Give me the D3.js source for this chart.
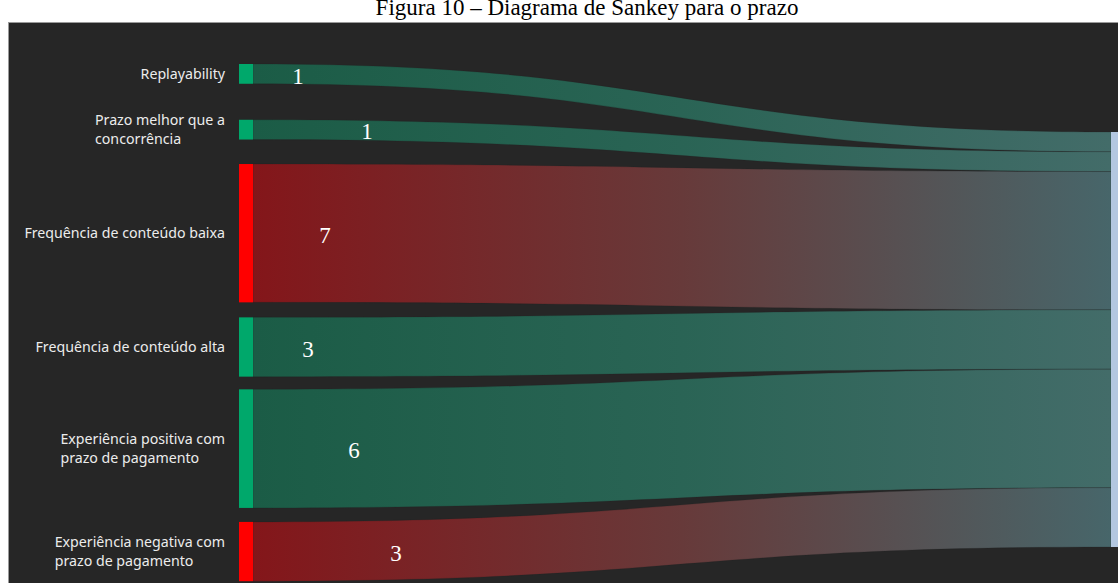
<!DOCTYPE html>
<html>
<head>
<meta charset="utf-8">
<script src="https://cdn.jsdelivr.net/npm/d3@7"></script>
<style>
  html, body { margin: 0; padding: 0; background: #ffffff; }
  svg { display: block; }
</style>
</head>
<body>
<svg id="chart" width="1118" height="583"></svg>
<script>
// ---------------- DATA ----------------
const sources = [
  "Replayability",
  "Prazo melhor que a concorrência",
  "Frequência de conteúdo baixa",
  "Frequência de conteúdo alta",
  "Experiência positiva com prazo de pagamento",
  "Experiência negativa com prazo de pagamento"
];
const sourceLines = [
  ["Replayability"],
  ["Prazo melhor que a", "concorrência"],
  ["Frequência de conteúdo baixa"],
  ["Frequência de conteúdo alta"],
  ["Experiência positiva com", "prazo de pagamento"],
  ["Experiência negativa com", "prazo de pagamento"]
];
const values = [1, 1, 7, 3, 6, 3];
const sentiment = ["pos", "pos", "neg", "pos", "pos", "neg"];
const target = "Prazo";
const titleText = "Figura 10 – Diagrama de Sankey para o prazo";

// ---------------- LAYOUT / STYLE ----------------
const W = 1118, H = 583;
const panel = { x: 8.5, y: 22.5 };
const nodeW = 14;
const leftX = 239;
const rightX = 1111;
const leftTop = 64;
const rightTop = 132;
const gaps = [0, 36, 24.5, 15, 12.7, 14];        // vertical gaps before each left node
const valueLabelOffset = [45, 114, 72, 55, 101, 143]; // x offset of value label from node edge
const labelRight = 225;

const colors = {
  pos: "#00a86b",
  neg: "#ff0000",
  target: "#b3c7e0",
  bg: "#262626",
  linkStart: { pos: "#1b5c46", neg: "#84161a" },
  linkMid: { pos: "#2a6455", neg: "#673a3a" },
  linkEnd: { pos: "#436c69", neg: "#47666a" }
};

const total = d3.sum(values);
const y = d3.scaleLinear().domain([0, total]).range([0, 415]);

const svg = d3.select("#chart");

// title
svg.append("text")
  .attr("x", 587).attr("y", 15)
  .attr("text-anchor", "middle")
  .attr("font-family", "'Liberation Serif', 'Times New Roman', serif")
  .attr("font-size", 23)
  .attr("fill", "#000")
  .text(titleText);

// panel
svg.append("rect")
  .attr("x", panel.x).attr("y", panel.y)
  .attr("width", W - panel.x + 5).attr("height", H - panel.y + 5)
  .attr("fill", colors.bg)
  .attr("stroke", "#9a9a9a").attr("stroke-width", 1);

// compute nodes
let cursor = leftTop;
let rcursor = rightTop;
const nodes = values.map((v, i) => {
  cursor += gaps[i];
  const y0 = cursor, y1 = cursor + y(v);
  cursor = y1;
  const ty0 = rcursor, ty1 = rcursor + y(v);
  rcursor = ty1;
  return { i, v, y0, y1, ty0, ty1, s: sentiment[i] };
});

// gradients
const defs = svg.append("defs");
["pos", "neg"].forEach(s => {
  const g = defs.append("linearGradient")
    .attr("id", "grad-" + s)
    .attr("gradientUnits", "userSpaceOnUse")
    .attr("x1", leftX + nodeW).attr("x2", rightX)
    .attr("y1", 0).attr("y2", 0);
  g.append("stop").attr("offset", "0%").attr("stop-color", colors.linkStart[s]);
  g.append("stop").attr("offset", "50%").attr("stop-color", colors.linkMid[s]);
  g.append("stop").attr("offset", "100%").attr("stop-color", colors.linkEnd[s]);
});

// links
const x0 = leftX + nodeW, x1 = rightX, xm = (x0 + x1) / 2;
function linkPath(n) {
  const p = d3.path();
  p.moveTo(x0, n.y0);
  p.bezierCurveTo(xm, n.y0, xm, n.ty0, x1, n.ty0);
  p.lineTo(x1, n.ty1);
  p.bezierCurveTo(xm, n.ty1, xm, n.y1, x0, n.y1);
  p.closePath();
  return p.toString();
}
svg.append("g").selectAll("path")
  .data(nodes).join("path")
  .attr("d", linkPath)
  .attr("fill", d => `url(#grad-${d.s})`)
  .attr("stroke", "#1e1e1e").attr("stroke-opacity", 0.35).attr("stroke-width", 0.6);

// left nodes
svg.append("g").selectAll("rect")
  .data(nodes).join("rect")
  .attr("x", leftX).attr("y", d => d.y0)
  .attr("width", nodeW).attr("height", d => d.y1 - d.y0)
  .attr("fill", d => colors[d.s]);

// right node
svg.append("rect")
  .attr("x", rightX).attr("y", rightTop)
  .attr("width", nodeW).attr("height", y(total))
  .attr("fill", colors.target)
  .append("title").text(target);

// source labels
const labelFont = "'Noto Sans', 'Open Sans', sans-serif";
const lineH = 19;
const lg = svg.append("g");
nodes.forEach(n => {
  const lines = sourceLines[n.i];
  const t = lg.append("text")
    .attr("font-family", labelFont)
    .attr("font-size", 14.2)
    .attr("fill", "#ececec");
  const cy = (n.y0 + n.y1) / 2;
  const startY = cy - (lines.length - 1) * lineH / 2;
  lines.forEach((l, k) => {
    t.append("tspan").attr("y", startY + k * lineH).attr("dy", "0.35em").text(l);
  });
  let maxW = 0;
  t.selectAll("tspan").each(function () { maxW = Math.max(maxW, this.getComputedTextLength()); });
  t.selectAll("tspan").attr("x", labelRight - maxW);
});

// value labels
svg.append("g").selectAll("text")
  .data(nodes).join("text")
  .attr("x", d => leftX + nodeW + valueLabelOffset[d.i])
  .attr("y", d => (d.y0 + d.y1) / 2 + 2)
  .attr("dy", "0.34em")
  .attr("text-anchor", "middle")
  .attr("font-family", "'Liberation Serif', 'Times New Roman', serif")
  .attr("font-size", 23)
  .attr("fill", "#ffffff")
  .text(d => d.v);
</script>
</body>
</html>
